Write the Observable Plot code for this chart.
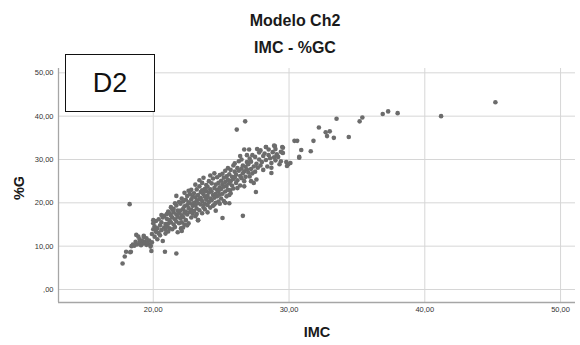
<!DOCTYPE html>
<html>
<head>
<meta charset="utf-8">
<script src="https://cdn.jsdelivr.net/npm/d3@7"></script>
<script src="https://cdn.jsdelivr.net/npm/@observablehq/plot@0.6"></script>
<style>
  html, body { margin: 0; padding: 0; background: #fff; }
  #wrap { position: relative; width: 580px; height: 345px; font-family: "Liberation Sans", Arial, sans-serif; }
  .title { position: absolute; left: 0; width: 590px; text-align: center; font-weight: bold; font-size: 16px; line-height: 16px; color: #1a1a1a; }
  .axlab { position: absolute; font-weight: bold; font-size: 14.5px; line-height: 16px; color: #1a1a1a; }
  #tag { position: absolute; left: 65px; top: 54px; width: 88px; height: 56px; border: 1.5px solid #111; background: #fff;
         font-size: 27px; line-height: 56px; text-align: center; color: #111; }
  #chart { position: absolute; left: 0; top: 0; }
</style>
</head>
<body>
<div id="wrap">
  <div id="chart"></div>
  <div class="title" style="top:13px">Modelo Ch2</div>
  <div class="title" style="top:40px">IMC - %GC</div>
  <div class="axlab" style="left:300px; top:324px; width:34px; text-align:center;">IMC</div>
  <div class="axlab" style="left:2px; top:180px; width:34px; text-align:center; transform: rotate(-90deg);">%G</div>
  <div id="tag">D2</div>
</div>
<script>
const chartTitle = "Modelo Ch2";
const chartSubtitle = "IMC - %GC";
const xLabel = "IMC";
const yLabel = "%G";
const xTicks = [20, 30, 40, 50];
const yTicks = [0, 10, 20, 30, 40, 50];

// IMC (x) values
const imc = [
  // sparse / outlying points
  45.2, 41.2, 38.0, 37.3, 36.9, 35.4, 35.2, 33.5, 34.4, 32.2, 32.7, 33.0, 32.8, 33.3, 31.8, 31.6, 30.75, 30.9, 30.4, 30.6,
  30.1, 29.85, 29.5, 29.5, 29.4, 26.15, 26.77, 18.26, 17.74, 17.9, 18.0, 18.35, 19.86, 20.86, 21.7, 25.1, 26.6, 27.56,
  18.75, 18.5, 19.3, 22.04, 22.1, 23.3, 25.66, 25.6, 28.7, 28.7, 29.8, 29.55, 29.55, 28.96, 28.3, 27.65, 27.06, 26.7,
  26.4, 29.94, 30.75, 21.7,
  // band 18-19.9
  18.6, 18.7, 18.8, 18.9, 19.0, 19.0, 19.1, 19.2, 19.3, 19.3, 19.4, 19.5, 19.5, 19.6, 19.7, 19.8, 19.8, 19.9, 18.3, 18.4,
  // band 19.9-20.9
  19.9, 20.0, 20.0, 20.1, 20.1, 20.2, 20.2, 20.3, 20.3, 20.4, 20.4, 20.5, 20.5, 20.6, 20.6, 20.7, 20.7, 20.8, 20.8, 20.9,
  20.9, 20.9, 20.2, 20.6, 20.0,
  // band 21-21.9
  21.0, 21.0, 21.0, 21.1, 21.1, 21.1, 21.2, 21.2, 21.3, 21.3, 21.3, 21.4, 21.4, 21.5, 21.5, 21.5, 21.6, 21.6, 21.7, 21.7,
  21.7, 21.8, 21.8, 21.8, 21.9, 21.9, 21.9, 21.2, 21.6, 21.4,
  // band 22-22.9
  22.0, 22.0, 22.0, 22.1, 22.1, 22.1, 22.2, 22.2, 22.2, 22.3, 22.3, 22.3, 22.4, 22.4, 22.4, 22.5, 22.5, 22.5, 22.6, 22.6,
  22.6, 22.7, 22.7, 22.7, 22.8, 22.8, 22.8, 22.9, 22.9, 22.9, 22.3, 22.6, 22.2, 22.8, 22.5,
  // band 23-23.9
  23.0, 23.0, 23.0, 23.1, 23.1, 23.1, 23.2, 23.2, 23.2, 23.3, 23.3, 23.3, 23.4, 23.4, 23.4, 23.5, 23.5, 23.5, 23.6, 23.6,
  23.6, 23.7, 23.7, 23.7, 23.8, 23.8, 23.8, 23.9, 23.9, 23.9, 23.1, 23.4, 23.6, 23.2, 23.8,
  // band 24-24.9
  24.0, 24.0, 24.0, 24.1, 24.1, 24.1, 24.2, 24.2, 24.2, 24.3, 24.3, 24.3, 24.4, 24.4, 24.4, 24.5, 24.5, 24.5, 24.6, 24.6,
  24.6, 24.7, 24.7, 24.7, 24.8, 24.8, 24.8, 24.9, 24.9, 24.9, 24.2, 24.5, 24.0, 24.6, 24.9,
  // band 25-25.9
  25.0, 25.0, 25.0, 25.1, 25.1, 25.1, 25.2, 25.2, 25.2, 25.3, 25.3, 25.3, 25.4, 25.4, 25.4, 25.5, 25.5, 25.5, 25.6, 25.6,
  25.7, 25.7, 25.7, 25.8, 25.8, 25.9, 25.9, 25.9, 25.3, 25.6,
  // band 26-26.9
  26.0, 26.0, 26.0, 26.1, 26.1, 26.2, 26.2, 26.3, 26.3, 26.4, 26.4, 26.5, 26.5, 26.5, 26.6, 26.6, 26.7, 26.7, 26.8, 26.8,
  26.9, 26.9, 26.2, 26.7, 26.9,
  // band 27-27.9
  27.0, 27.0, 27.1, 27.1, 27.2, 27.2, 27.3, 27.3, 27.4, 27.5, 27.5, 27.6, 27.6, 27.7, 27.8, 27.8, 27.9, 27.4, 27.9, 27.2,
  // band 28-29.4
  28.0, 28.1, 28.1, 28.2, 28.3, 28.4, 28.5, 28.5, 28.6, 28.7, 28.8, 28.9, 29.0, 29.0, 29.1, 29.2, 29.3, 29.4, 28.3, 28.9
];

// %G (y) values, same order as imc
const pctG = [
  43.2, 40.0, 40.7, 41.1, 40.5, 39.7, 38.8, 39.4, 35.2, 37.4, 36.3, 36.5, 35.4, 35.0, 34.3, 31.9, 30.4, 32.2, 34.3, 34.3,
  29.2, 28.5, 32.9, 31.6, 29.6, 36.9, 38.8, 19.7, 6.0, 7.6, 8.7, 8.7, 8.9, 8.7, 8.3, 16.5, 17.0, 22.5,
  12.6, 10.4, 12.1, 14.1, 13.5, 16.0, 22.9, 21.8, 26.9, 28.1, 29.4, 32.7, 31.5, 33.1, 32.9, 32.4, 32.3, 32.3,
  30.8, 28.9, 30.6, 21.6,
  10.1, 11.0, 10.4, 12.2, 10.8, 11.6, 10.2, 11.2, 10.6, 12.4, 11.0, 10.3, 11.8, 10.7, 11.3, 10.2, 9.9, 10.9, 8.6, 10.0,
  12.8, 13.9, 15.3, 12.2, 14.6, 13.3, 15.8, 14.1, 11.6, 16.2, 13.0, 14.8, 12.5, 15.5, 13.7, 16.6, 11.2, 14.3, 17.0, 15.1,
  12.9, 13.8, 14.0, 17.2, 16.0,
  14.5, 16.3, 17.4, 15.2, 13.4, 18.0, 16.0, 14.1, 17.1, 15.5, 19.0, 16.6, 13.9, 17.8, 15.0, 18.6, 16.2, 14.4, 17.3, 19.4,
  15.7, 16.8, 13.2, 18.2, 17.6, 15.3, 20.2, 17.6, 19.9, 18.4,
  16.4, 18.2, 19.8, 17.1, 15.5, 21.0, 18.6, 16.7, 20.3, 17.7, 19.2, 22.3, 18.0, 16.0, 20.7, 19.5, 17.3, 21.6, 18.8, 15.3,
  20.1, 19.9, 17.9, 22.0, 18.4, 20.8, 16.6, 19.3, 21.4, 17.5, 15.0, 22.8, 14.3, 23.0, 14.8,
  20.0, 18.1, 22.2, 19.4, 21.3, 16.9, 20.6, 18.7, 23.1, 16.0, 21.8, 19.9, 20.9, 18.3, 23.8, 19.6, 22.5, 21.1, 17.6, 20.4,
  24.6, 22.0, 19.0, 25.8, 21.4, 23.2, 18.5, 20.7, 22.7, 24.1, 24.2, 25.2, 22.9, 17.4, 19.8,
  21.6, 19.5, 23.7, 22.4, 20.2, 25.0, 21.0, 23.1, 18.9, 22.6, 24.5, 20.6, 21.8, 25.6, 19.3, 23.4, 21.2, 19.6, 22.1, 24.2,
  20.0, 23.0, 25.9, 21.5, 22.7, 20.3, 24.6, 23.6, 21.9, 26.4, 26.3, 26.8, 17.8, 18.2, 19.8,
  23.2, 25.1, 21.0, 24.3, 22.1, 26.7, 23.7, 25.8, 20.4, 24.8, 22.6, 27.4, 23.9, 26.1, 21.5, 25.3, 23.0, 28.0, 24.5, 26.6,
  22.2, 25.0, 27.6, 24.0, 26.0, 25.5, 23.3, 28.6, 20.0, 19.9,
  25.9, 27.2, 29.1, 24.6, 26.5, 28.0, 25.2, 27.4, 29.6, 26.2, 24.0, 27.9, 25.7, 30.0, 26.8, 28.6, 27.3, 25.0, 28.3, 26.0,
  27.7, 29.4, 23.4, 23.8, 31.0,
  27.0, 28.9, 26.1, 30.2, 27.8, 29.5, 26.8, 31.0, 28.4, 27.2, 30.6, 29.0, 25.4, 28.1, 30.0, 31.6, 28.6, 24.6, 32.1, 25.0,
  29.4, 30.8, 27.6, 31.4, 29.9, 28.4, 31.0, 32.3, 30.3, 29.2, 31.7, 30.5, 32.4, 29.8, 31.2, 30.6, 28.9, 31.8, 32.9, 33.2
];

const points = imc.map((x, i) => ({x, y: pctG[i]}));
const fmt = v => { let s = v.toFixed(2).replace(".", ","); return s.startsWith("0,") ? s.slice(1) : s; };

const xDomain = [13.02, 51.1];
const yDomain = [-3, 51];

const plot = Plot.plot({
  width: 580,
  height: 345,
  marginLeft: 58,
  marginRight: 5,
  marginTop: 68,
  marginBottom: 43,
  style: { fontFamily: "Liberation Sans, Arial, sans-serif", background: "transparent" },
  x: { domain: xDomain, ticks: xTicks },
  y: { domain: yDomain, ticks: yTicks },
  marks: [
    Plot.gridX(xTicks, { stroke: "#d6d6d6", strokeOpacity: 1, strokeWidth: 1 }),
    Plot.gridY(yTicks, { stroke: "#d6d6d6", strokeOpacity: 1, strokeWidth: 1 }),
    Plot.ruleX([xDomain[0]], { stroke: "#a6a6a6", strokeWidth: 1.3 }),
    Plot.ruleY([yDomain[0]], { stroke: "#a6a6a6", strokeWidth: 1.3 }),
    Plot.axisX(xTicks, { tickSize: 0, tickPadding: 4, tickFormat: fmt, fontSize: 7.5, fill: "#333", label: null }),
    Plot.axisY(yTicks, { tickSize: 0, tickPadding: 5, tickFormat: fmt, fontSize: 7.5, fill: "#333", label: null }),
    Plot.dot(points, { x: "x", y: "y", r: 2.3, fill: "#6c6c6c", stroke: "none" })
  ]
});
document.getElementById("chart").appendChild(plot);
</script>
</body>
</html>
